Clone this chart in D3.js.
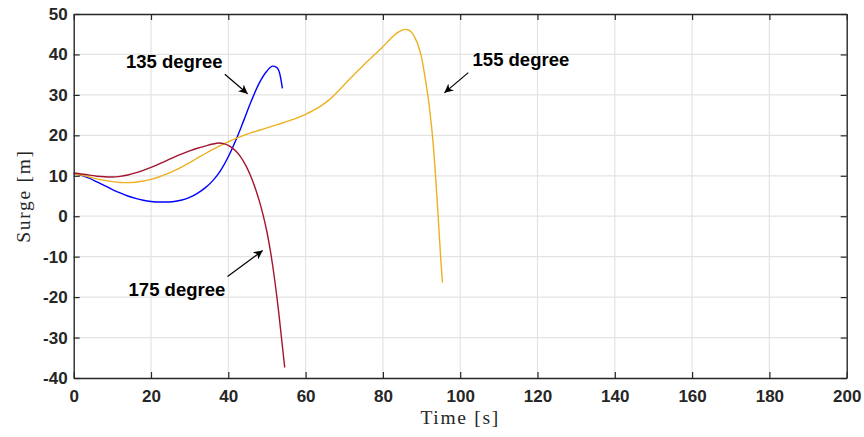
<!DOCTYPE html>
<html>
<head>
<meta charset="utf-8">
<script src="https://cdn.jsdelivr.net/npm/d3@7"></script>
<style>
  html, body { margin: 0; padding: 0; background: #fff; }
  svg { display: block; }
</style>
</head>
<body>
<svg id="chart" width="864" height="437"></svg>
<script>
// Surge response over time for three heading angles
const xTicks = [0, 20, 40, 60, 80, 100, 120, 140, 160, 180, 200];
const yTicks = [-40, -30, -20, -10, 0, 10, 20, 30, 40, 50];

const t135 = [0, 2, 4, 6, 8, 10, 12, 14, 16, 18, 20, 22, 24, 26, 28, 30, 32, 34, 36, 38, 40, 42, 44, 46, 48, 50, 51.5, 52.5, 53.3, 54];
const s135 = [10.5, 10.1, 9.4, 8.5, 7.55, 6.6, 5.75, 5.0, 4.4, 3.95, 3.65, 3.5, 3.5, 3.65, 4.0, 4.65, 5.65, 7.0, 8.8, 11.3, 14.7, 18.9, 23.7, 28.6, 32.9, 35.9, 37.1, 36.8, 35.3, 31.6];

const t155 = [0, 2, 4, 6, 8, 10, 12, 14, 16, 18, 20, 22, 24, 26, 28, 30, 32, 34, 36, 38, 40, 42, 44, 46, 48, 50, 52, 54, 56, 58, 60, 62, 64, 66, 68, 70, 72, 74, 76, 78, 80, 82, 83, 84, 85, 85.8, 86.6, 87.5, 88.3, 89, 90, 91, 92, 93, 94, 95, 95.4];
const s155 = [10.5, 10.15, 9.7, 9.25, 8.85, 8.55, 8.35, 8.3, 8.4, 8.7, 9.1, 9.7, 10.4, 11.25, 12.2, 13.25, 14.35, 15.45, 16.5, 17.5, 18.4, 19.25, 20.0, 20.65, 21.25, 21.85, 22.45, 23.05, 23.7, 24.4, 25.2, 26.15, 27.3, 28.7, 30.5, 32.5, 34.5, 36.4, 38.3, 40.1, 41.9, 43.9, 44.8, 45.5, 46.0, 46.2, 46.05, 45.4, 44.1, 42.6, 39.3, 33.8, 27.2, 18.0, 4.5, -11.0, -16.4];

const t175 = [0, 2, 4, 6, 8, 10, 12, 14, 16, 18, 20, 22, 24, 26, 28, 30, 32, 34, 36, 37.5, 39, 40, 41, 42, 43, 44, 45, 46, 47, 48, 49, 50, 51, 52, 53, 54, 54.6];
const s175 = [10.7, 10.45, 10.15, 9.9, 9.75, 9.7, 9.85, 10.2, 10.7, 11.35, 12.1, 12.9, 13.75, 14.6, 15.4, 16.15, 16.8, 17.35, 17.85, 18.1, 17.9, 17.5, 16.9, 16.05, 14.9, 13.45, 11.65, 9.45, 6.85, 3.85, 0.35, -3.9, -9.2, -15.7, -23.4, -32.2, -37.4];

const seriesNames = ["135 degree", "155 degree", "175 degree"];
const seriesColors = ["#0000ff", "#edb120", "#a2142f"];

// annotation text anchor [t, surge] and arrow [tail t, tail surge, head t, head surge]
const labelPos = [[13.5, 36.7], [103.2, 37.2], [14.2, -19.7]];
const arrowPos = [[39.1, 35.1, 45.0, 30.3], [102.1, 35.5, 95.9, 30.5], [39.8, -14.9, 48.9, -8.5]];

const svg = d3.select("#chart");
const M = { left: 73.7, right: 846.7, top: 14, bottom: 378 };

const x = d3.scaleLinear().domain([0, 200]).range([M.left, M.right]);
const y = d3.scaleLinear().domain([-40, 50]).range([M.bottom, M.top]);

const axisColor = "#262626";
const gridColor = "#e3e3e3";

// grid
const grid = svg.append("g");
grid.selectAll("line.gx").data(xTicks.slice(1, -1)).enter().append("line")
  .attr("x1", d => x(d)).attr("x2", d => x(d))
  .attr("y1", M.top).attr("y2", M.bottom)
  .attr("stroke", gridColor).attr("stroke-width", 1.2);
grid.selectAll("line.gy").data(yTicks.slice(1, -1)).enter().append("line")
  .attr("x1", M.left).attr("x2", M.right)
  .attr("y1", d => y(d)).attr("y2", d => y(d))
  .attr("stroke", gridColor).attr("stroke-width", 1.2);

// series
const line = d3.line()
  .x(d => x(d[0])).y(d => y(d[1]))
  .curve(d3.curveMonotoneX);

const series = [
  d3.zip(t135, s135),
  d3.zip(t155, s155),
  d3.zip(t175, s175)
];

svg.append("g").selectAll("path").data(series).enter().append("path")
  .attr("d", line)
  .attr("fill", "none")
  .attr("stroke", (d, i) => seriesColors[i])
  .attr("stroke-width", 1.4);

// axes with inward ticks, box on all sides
const tickFont = "bold 17px 'Liberation Sans', Arial, Helvetica, sans-serif";
const plain = d => String(d);

const xAxis = d3.axisBottom(x).tickValues(xTicks).tickFormat(plain).tickSizeInner(-6).tickSizeOuter(0).tickPadding(12);
const yAxis = d3.axisLeft(y).tickValues(yTicks).tickFormat(plain).tickSizeInner(-6).tickSizeOuter(0).tickPadding(12);
const xTop = d3.axisTop(x).tickValues(xTicks).tickSizeInner(-6).tickSizeOuter(0).tickFormat("");
const yRight = d3.axisRight(y).tickValues(yTicks).tickSizeInner(-6).tickSizeOuter(0).tickFormat("");

function styleAxis(g) {
  g.select(".domain").attr("stroke", axisColor).attr("stroke-width", 1.4);
  g.selectAll(".tick line").attr("stroke", axisColor).attr("stroke-width", 1.2);
  g.selectAll(".tick text").attr("fill", axisColor).style("font", tickFont);
}

svg.append("g").attr("transform", `translate(0,${M.bottom})`).call(xAxis).call(styleAxis);
svg.append("g").attr("transform", `translate(${M.left},0)`).call(yAxis).call(styleAxis)
  .selectAll(".tick text").attr("dx", 6);
svg.append("g").attr("transform", `translate(0,${M.top})`).call(xTop).call(styleAxis);
svg.append("g").attr("transform", `translate(${M.right},0)`).call(yRight).call(styleAxis);

// axis titles
const titleFont = "19.5px 'Liberation Serif', 'Times New Roman', serif";
svg.append("text")
  .attr("x", (M.left + M.right) / 2).attr("y", 424)
  .attr("text-anchor", "middle")
  .style("font", titleFont).style("letter-spacing", "1.7px").attr("fill", axisColor)
  .text("Time [s]");
svg.append("text")
  .attr("transform", `translate(30,${(M.top + M.bottom) / 2}) rotate(-90)`)
  .attr("text-anchor", "middle")
  .style("font", titleFont).style("letter-spacing", "1.7px").attr("fill", axisColor)
  .text("Surge [m]");

// annotations
svg.append("defs").append("marker")
  .attr("id", "arrowhead")
  .attr("viewBox", "0 0 10 10")
  .attr("refX", 10).attr("refY", 5)
  .attr("markerWidth", 9).attr("markerHeight", 9)
  .attr("markerUnits", "userSpaceOnUse")
  .attr("orient", "auto")
  .append("path").attr("d", "M0,0 L10,5 L0,10 L3,5 Z").attr("fill", "#000");

const ann = svg.append("g");
ann.selectAll("line").data(arrowPos).enter().append("line")
  .attr("x1", d => x(d[0])).attr("y1", d => y(d[1]))
  .attr("x2", d => x(d[2])).attr("y2", d => y(d[3]))
  .attr("stroke", "#000").attr("stroke-width", 1.2)
  .attr("marker-end", "url(#arrowhead)");
ann.selectAll("text").data(labelPos).enter().append("text")
  .attr("x", d => x(d[0])).attr("y", d => y(d[1]))
  .style("font", "bold 18.5px 'Liberation Sans', Arial, Helvetica, sans-serif")
  .attr("fill", "#000")
  .text((d, i) => seriesNames[i]);
</script>
</body>
</html>
